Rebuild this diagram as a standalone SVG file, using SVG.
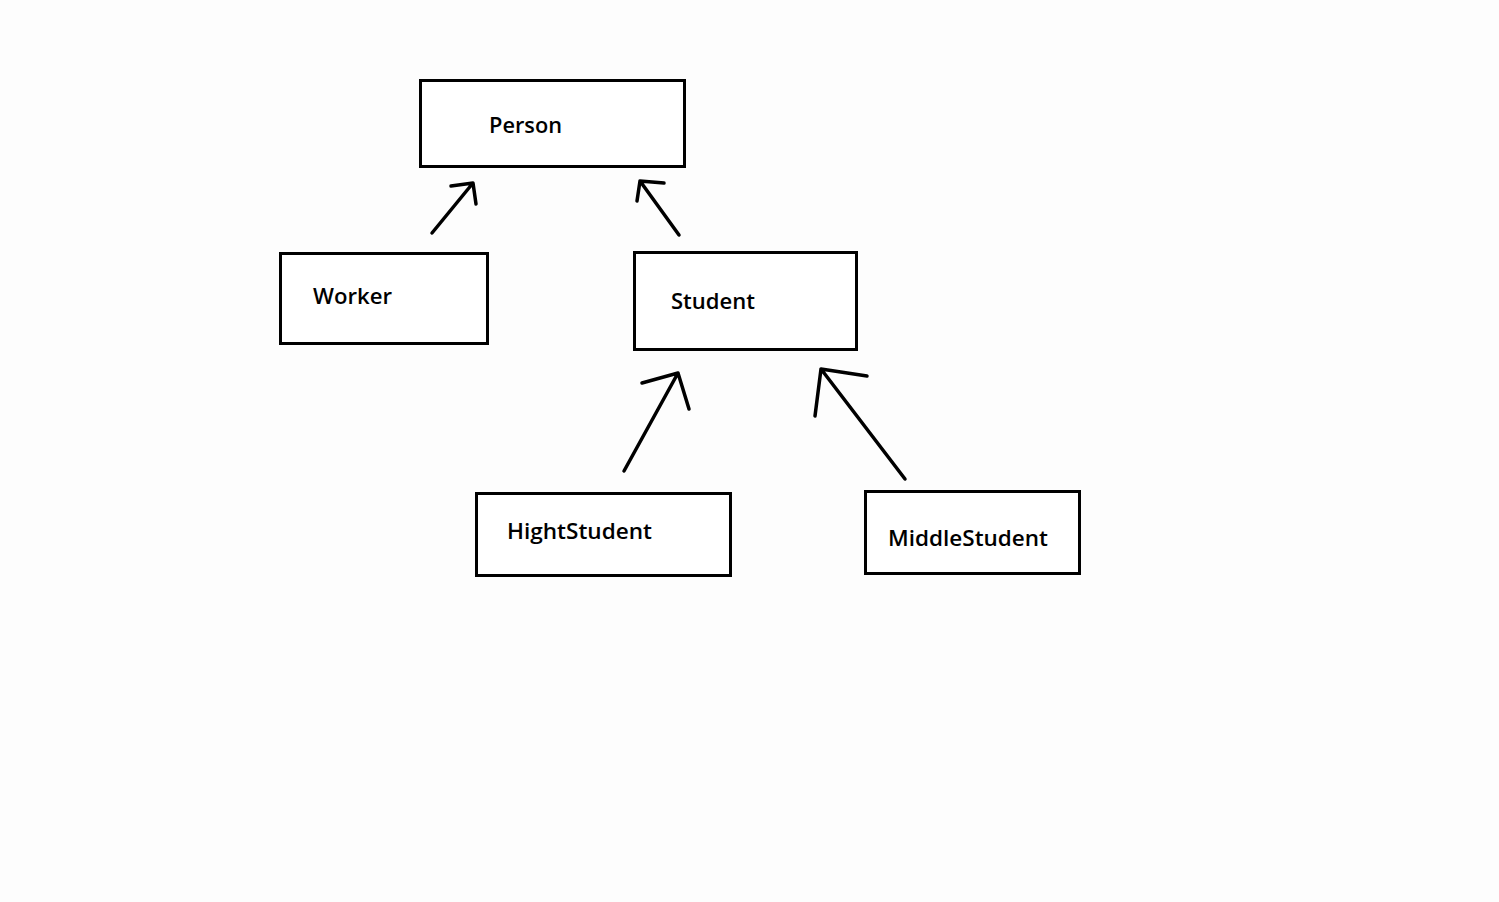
<svg xmlns="http://www.w3.org/2000/svg" width="1499" height="902" viewBox="0 0 1499 902">
<style>
.box{fill:#fff;stroke:#000;stroke-width:3;}
.lbl{font-family:"Open Sans","Noto Sans","Liberation Sans",sans-serif;font-size:22px;font-weight:600;fill:#000;}
.arr{fill:none;stroke:#000;stroke-width:3.5;stroke-linecap:round;stroke-linejoin:round;}
</style>
<rect width="1499" height="902" fill="#fdfdfd"/>
<g id="person"><rect class="box" x="420.5" y="80.5" width="264" height="86"/><text class="lbl" x="489" y="133" textLength="73" lengthAdjust="spacingAndGlyphs">Person</text></g>
<g id="worker"><rect class="box" x="280.5" y="253.5" width="207" height="90"/><text class="lbl" x="313" y="304" textLength="79" lengthAdjust="spacingAndGlyphs">Worker</text></g>
<g id="student"><rect class="box" x="634.5" y="252.5" width="222" height="97"/><text class="lbl" x="671" y="309" textLength="84" lengthAdjust="spacingAndGlyphs">Student</text></g>
<g id="hightstudent"><rect class="box" x="476.5" y="493.5" width="254" height="82"/><text class="lbl" x="507" y="539" textLength="145" lengthAdjust="spacingAndGlyphs">HightStudent</text></g>
<g id="middlestudent"><rect class="box" x="865.5" y="491.5" width="214" height="82"/><text class="lbl" x="888" y="546" textLength="160" lengthAdjust="spacingAndGlyphs">MiddleStudent</text></g>
<g id="connectors">
<path class="arr" d="M432,233 L473,183 M451,186 L473,183 L476,204"/>
<path class="arr" d="M679,235 L640,181 M637,201 L640,181 L664,183"/>
<path class="arr" d="M624,471 L678,373 M642,383 L678,373 L689,409"/>
<path class="arr" d="M905,479 L821,369 M815,416 L821,369 L867,376"/>
</g>
</svg>
